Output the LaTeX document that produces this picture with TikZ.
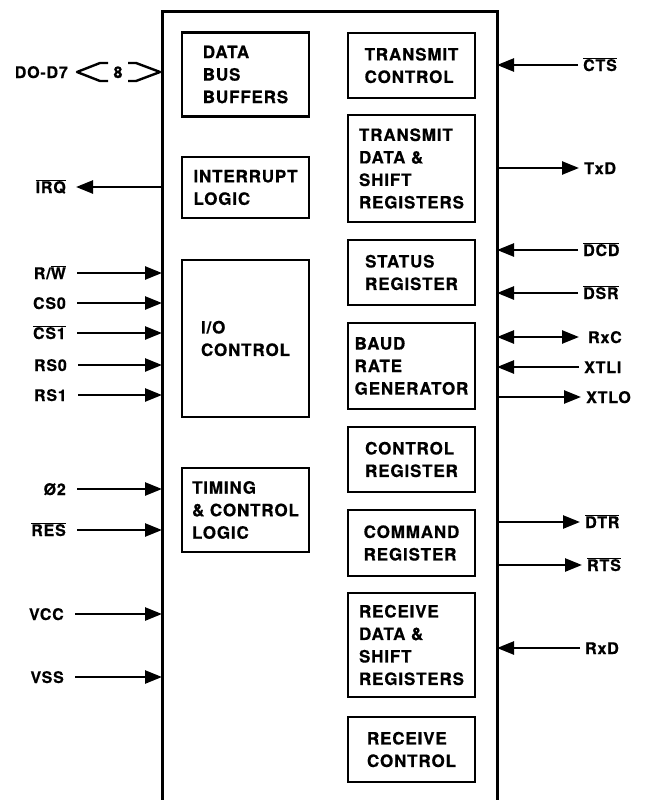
\documentclass[tikz,border=0pt]{standalone}
\usepackage{fontspec}
\setmainfont{TeX Gyre Heros}[LetterSpace=5, FakeBold=0.6]
\usetikzlibrary{arrows.meta}
\newcommand\ovl[1]{\ensuremath{\overline{\hbox{#1}}}}
\begin{document}
\begin{tikzpicture}[x=1pt,y=-1pt,
  font=\fontsize{16}{22}\selectfont\bfseries,
  blk/.style={draw, line width=2.8pt, align=left, inner sep=0pt, minimum width=127pt,
              font=\fontsize{17}{22.5}\selectfont\bfseries},
  frame/.style={line width=3pt},
  pinl/.style={anchor=east, inner sep=0pt, text height=12pt, text depth=0pt},
  pinr/.style={anchor=west, inner sep=0pt, text height=12pt, text depth=0pt},
  sig/.style={line width=2.5pt},
  tipa/.tip={Triangle[length=17pt,width=13pt]},
  bus/.style={line width=2.4pt, line join=round}]
\useasboundingbox (0,0) rectangle (647,800);

% chip outline (open at the bottom)
\coordinate (chipL) at (162,0);
\coordinate (chipR) at (497,0);
\draw[frame] (162,800) -- (162,12) -- (497,12) -- (497,800);

% left column blocks
\node[blk, minimum height=84pt]  (dbb) at (245.5,74.5) {DATA\\BUS\\BUFFERS};
\node[blk, minimum height=61pt]  (irl) at (245.5,187.5) {INTERRUPT\\LOGIC};
\node[blk, minimum height=157pt] (ioc) at (245.5,338.5) {I/O\\CONTROL};
\node[blk, minimum height=84pt]  (tcl) at (245.5,510)   {TIMING\\\& CONTROL\\LOGIC};

% right column blocks
\node[blk, minimum height=65pt]  (txc) at (411.5,65.5)  {TRANSMIT\\CONTROL};
\node[blk, minimum height=107pt] (txr) at (411.5,168.5) {TRANSMIT\\DATA \&\\SHIFT\\REGISTERS};
\node[blk, minimum height=65pt]  (str) at (411.5,272.5) {STATUS\\REGISTER};
\node[blk, minimum height=86pt]  (brg) at (411.5,366)   {BAUD\\RATE\\GENERATOR};
\node[blk, minimum height=65pt]  (ctr) at (411.5,459.5) {CONTROL\\REGISTER};
\node[blk, minimum height=66pt]  (cmr) at (411.5,543)   {COMMAND\\REGISTER};
\node[blk, minimum height=104pt] (rxr) at (411.5,645)   {RECEIVE\\DATA \&\\SHIFT\\REGISTERS};
\node[blk, minimum height=65pt]  (rxc) at (411.5,749.5) {RECEIVE\\CONTROL};

% data bus
\node[pinl] (dbus) at (68,72) {DO-D7};
\node[inner sep=0pt, text height=12pt, text depth=0pt] (eight) at (118,72) {8};
\draw[bus] (eight.center) ++(-10,-9) -- ++(-8,0) -- ++(-23,9) -- ++(23,9) -- ++(8,0);
\draw[bus] (eight.center) ++(10,-9) -- ++(8,0) -- ++(24,9) -- ++(-24,9) -- ++(-8,0);

% left pins
\node[pinl] (irq) at (66,187) {\ovl{IRQ}};
\draw[sig,-tipa] (irq -| chipL) -- ([xshift=10pt]irq.east);

\node[pinl] (rw)  at (66,273) {R/\ovl{W}};
\node[pinl] (cs0) at (66,303) {CS0};
\node[pinl] (cs1) at (66,333) {\ovl{CS1}};
\node[pinl] (rs0) at (67,365) {RS0};
\node[pinl] (rs1) at (67,395) {RS1};
\node[pinl] (phi) at (66,489) {Ø2};
\node[pinl] (res) at (66,530) {\ovl{RES}};
\node[pinl] (vcc) at (64,614) {VCC};
\node[pinl] (vss) at (64,677) {VSS};
\foreach \p in {rw,cs0,cs1,rs0,rs1,phi,res,vcc,vss}
  \draw[sig,-tipa] ([xshift=11pt]\p.east) -- (\p -| chipL);

% right pins
\node[pinr] (cts)  at (583,65)  {\ovl{CTS}};
\node[pinr] (txd)  at (584,168) {TxD};
\node[pinr] (dcd)  at (583,250) {\ovl{DCD}};
\node[pinr] (dsr)  at (583,293) {\ovl{DSR}};
\node[pinr] (rxcp) at (588,337) {RxC};
\node[pinr] (xtli) at (584,367) {XTLI};
\node[pinr] (xtlo) at (586,397) {XTLO};
\node[pinr] (dtr)  at (585,522) {\ovl{DTR}};
\node[pinr] (rts)  at (587,565) {\ovl{RTS}};
\node[pinr] (rxd)  at (585,648) {RxD};

\foreach \p in {cts,dcd,dsr,xtli,rxd}
  \draw[sig,-tipa] ([xshift=-5pt]\p.west) -- (\p -| chipR);
\foreach \p in {txd,xtlo,dtr,rts}
  \draw[sig,-tipa] (\p -| chipR) -- ([xshift=-5pt]\p.west);
\draw[sig,tipa-tipa] (rxcp -| chipR) -- ([xshift=-9pt]rxcp.west);
\end{tikzpicture}
\end{document}
